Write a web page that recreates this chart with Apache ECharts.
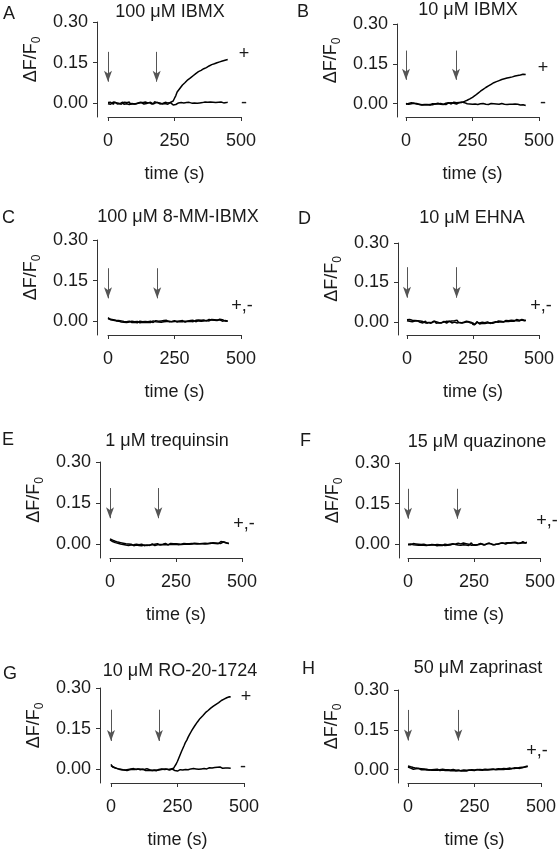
<!DOCTYPE html>
<html><head><meta charset="utf-8">
<script src="https://cdn.jsdelivr.net/npm/echarts@6/dist/echarts.min.js"></script>
<style>html,body{margin:0;padding:0;background:#fff}#c{width:559px;height:853px}</style>
</head><body><div id="c"></div><script>
// ---------- data ----------
const times = [0,5,10,15,20,25,30,35,40,45,50,55,60,65,70,75,80,85,90,95,100,105,110,115,120,125,130,135,140,145,150,155,160,165,170,175,180,185,190,195,200,205,210,215,220,225,230,235,240,245,250,255,260,265,270,275,280,285,290,295,300,305,310,315,320,325,330,335,340,345,350,355,360,365,370,375,380,385,390,395,400,405,410,415,420,425,430,435,440,445,450];

const aPlus = [.003,-.002,.004,.000,-.003,.005,.001,-.002,.004,-.001, .002,.005,-.003,.003,-.001,.004,-.004,.002,.000,.005, -.002,.003,.001,-.004,.004,.000,.003,-.003,.005,-.001, .002,-.003,.004,.001,-.002,.006,-.001,.003,-.004,.002, .004,-.002,.003,.000,.005,-.003,.002,.004,.001,.009, .019,.029,.042,.045,.055,.059,.068,.069,.077,.080, .087,.088,.094,.097,.102,.104,.110,.111,.117,.118, .122,.124,.128,.129,.132,.134,.138,.138,.143,.143, .146,.147,.150,.149,.153,.152,.156,.155,.159,.160, .162];
const aMinus = [-.001,.004,-.003,.002,.005,-.002,.003,-.004,.001,.004, -.003,.001,.004,-.002,.003,.000,.005,-.003,.002,-.001, .004,-.002,.003,.001,-.004,.003,.002,-.002,.004,.000, -.003,.003,.001,-.002,.005,.000,-.003,.004,.001,-.002, .003,.000,-.003,.004,-.001,.002,-.004,.003,-.002,-.006, -.009,-.004,-.001,.002,.000,.003,.001,.002,.000,.003, .001,.004,.002,.001,.003,.002,.004,.001,.003,.002, .004,.003,.002,.005,.003,.004,.002,.005,.003,.004, .006,.003,.005,.004,.003,.005,.004,.002,.004,.003, .004];
const bPlus = [.001,.004,-.002,.003,.000,-.003,.002,.004,-.001,.002, -.002,.001,-.004,.000,-.003,.002,-.004,-.001,-.003,.001, -.004,-.002,.000,-.005,-.001,-.003,.001,-.004,-.002,.002, -.003,.001,.003,-.002,.004,.000,.002,.005,-.001,.003, .004,.007,.005,.008,.009,.008,.013,.012,.018,.020, .024,.027,.031,.036,.039,.043,.047,.051,.054,.058, .061,.064,.067,.071,.073,.076,.079,.080,.083,.086, .087,.090,.091,.093,.094,.096,.097,.098,.099,.101, .101,.103,.104,.105,.106,.107,.108,.110,.111,.112, .110];
const bMinus = [-.002,.003,.001,-.003,.004,-.001,.002,-.004,.001,.003, -.003,.000,-.005,.002,-.004,-.001,-.003,.001,-.005,-.002, .000,-.004,-.001,-.003,.002,-.005,-.002,.001,-.003,.000, .002,-.002,.004,.001,-.001,.003,.006,.001,.004,-.002, .005,.002,.006,.001,.004,.003,.000,.002,-.001,.001, -.002,.000,-.001,.001,-.003,-.001,.000,-.002,.001,-.001, -.002,.000,-.003,-.001,.001,-.002,.000,-.003,-.001,.000, -.002,-.001,.001,-.003,-.002,.000,-.003,-.001,-.002,-.004, -.002,-.003,-.001,-.004,-.002,-.003,-.005,-.003,-.004,-.006, -.007];
const cPlus = [.014,.008,.006,.009,.004,.006,.002,.005,.001,.003, -.002,.002,-.003,.001,-.004,.000,-.002,-.005,.001,-.003, -.001,-.004,.000,-.003,-.005,-.001,-.003,.001,-.004,-.002, -.003,.000,-.004,-.001,.002,-.003,-.001,.003,-.002,.000, -.003,.002,-.001,.003,.000,-.002,.001,.004,-.001,.002, .000,-.003,.001,-.002,.002,-.001,.003,.000,-.002,.001, .002,-.001,.003,.000,.004,.001,-.001,.003,.002,.005, .001,.004,.002,.005,.003,.006,.002,.004,.007,.003, .006,.003,.005,.002,.006,.004,.001,.005,.003,.004, .002];
const cMinus = [.010,.005,.008,.003,.006,.001,.004,-.001,.003,.000, .002,-.003,.000,-.004,-.001,-.003,.001,-.002,-.004,.000, -.003,.000,-.005,-.002,.001,-.004,-.001,-.003,.000,-.005, -.001,-.004,.001,-.002,-.004,.000,.003,-.003,.001,-.002, .002,-.001,.003,-.002,.004,.001,-.001,.002,.000,-.002, .003,.001,-.002,.002,.000,.003,-.001,.002,.001,-.001, .000,.003,.001,.004,-.001,.002,.004,.000,.005,.002, .004,.001,.005,.003,.002,.004,.007,.003,.005,.002, .004,.007,.003,.005,.008,.002,.006,.004,.002,.005, .001];
const dPlus = [.008,.004,.009,.003,.006,.002,.005,.000,.004,-.002, .003,-.003,.001,.004,-.004,.000,-.002,.003,-.005,-.001, .002,-.004,.000,-.006,-.002,.001,-.003,.003,-.001,-.004, .002,-.002,.001,-.005,.003,-.001,.004,-.003,.006,-.002, .001,-.004,.003,-.001,-.005,.002,-.003,.000,-.006,-.002, -.010,-.003,-.007,.001,-.004,-.008,-.002,-.005,.000,-.006, -.002,-.004,.001,-.003,-.001,-.005,.002,-.002,.000,.003, -.001,.002,.004,.000,.003,.005,.001,.004,.002,.006, .003,.005,.008,.004,.007,.003,.006,.009,.004,.006, .005];
const dMinus = [.004,.007,.002,.006,.000,.005,.003,-.002,.004,.001, -.002,.002,-.004,.000,.003,-.005,.001,-.002,.002,-.003, -.001,.003,-.005,-.001,-.003,.002,-.004,.000,.002,-.003, -.005,.000,.003,-.002,-.004,.001,-.001,.005,-.004,.001, -.002,.002,-.004,.001,-.002,-.006,.000,-.003,-.004,-.008, -.004,-.012,-.006,-.002,-.009,-.004,-.006,-.001,-.007,-.003, -.005,.000,-.003,-.006,.001,-.002,-.004,.000,.002,-.002, .002,.000,.003,-.001,.004,.002,.006,.001,.005,.003, .007,.002,.005,.009,.004,.006,.003,.007,.005,.004, .006];
const ePlus = [.020,.013,.015,.009,.011,.005,.008,.003,.006,.001, .004,-.001,.002,-.003,.001,-.004,.000,-.002,-.005,-.001, -.003,.000,-.004,-.002,-.005,-.001,-.003,.000,-.004,-.002, -.003,.001,-.002,-.004,.000,-.003,.002,-.001,-.003,.001, -.002,.002,-.001,.003,-.002,.001,.003,-.001,.002,.000, .002,-.002,.001,.003,-.001,.002,.000,.003,.001,.002, .000,.003,.001,.002,.004,.001,.003,.000,.002,.004, .002,.003,.001,.004,.002,.005,.003,.004,.006,.002, .005,.008,.004,.007,.003,.006,.009,.004,.006,.003, .002];
const eMinus = [.016,.018,.010,.012,.006,.009,.004,.006,.001,.003, -.001,.002,-.003,.000,-.004,-.001,-.003,.001,-.002,-.004, .000,-.005,-.002,-.004,.000,-.003,-.005,-.001,-.003,.001, -.004,-.001,.001,-.003,-.005,.000,-.002,.003,-.001,-.004, .000,-.003,.003,.000,-.002,.004,.000,.002,-.001,.003, .000,.001,-.002,.002,.000,-.001,.003,.000,.002,-.001, .002,.001,.003,.000,.002,.003,.001,.004,.002,.001, .003,.001,.004,.002,.003,.001,.005,.002,.004,.007, .003,.006,.002,.007,.010,.005,.008,.002,.005,.007, .004];
const fPlus = [.001,-.002,.002,.000,-.001,.003,-.002,.001,-.003,.000, -.002,.001,-.003,-.001,-.004,.000,-.002,-.004,-.001,-.003, -.002,-.004,.000,-.003,-.001,-.005,-.002,.000,-.004,-.001, -.003,.000,-.002,-.004,.001,-.002,.002,-.003,.004,-.001, .002,-.004,.005,-.002,.003,-.004,.001,.004,-.003,.002, -.001,.003,-.002,.004,.000,-.003,.002,.005,-.001,.001, .003,-.002,.004,.001,-.001,.003,.000,.004,.002,.001, .004,.002,.005,.003,.001,.004,.006,.003,.005,.004, .006,.003,.007,.005,.004,.008,.006,.009,.005,.010, .007];
const fMinus = [-.001,.002,-.001,.001,.003,-.002,.002,-.001,.001,-.003, .000,-.003,.001,-.004,-.002,.001,-.003,-.002,.000,-.004, -.001,-.003,-.005,-.001,-.003,.000,-.004,-.002,.001,-.003, -.001,-.004,.001,-.002,.003,-.003,.000,.005,-.002,.003, -.003,.004,-.001,.006,-.002,.002,-.004,.003,.006,-.002, .004,-.003,.003,.000,-.004,.004,.001,-.002,.005,.000, -.002,.004,.000,.002,.005,-.001,.003,.001,.005,.002, .002,.005,.001,.004,.003,.006,.002,.005,.003,.007, .004,.008,.005,.003,.009,.004,.007,.010,.006,.005, .008];
const gPlus = [.019,.010,.014,.006,.008,.003,.006,.001,.004,-.001, .002,-.002,.003,.000,-.003,.002,-.001,.003,-.004,.000, -.002,.002,-.003,.001,-.004,.000,-.002,.003,-.003,-.001, .001,-.004,.002,-.002,.000,-.003,.003,-.001,-.004,.001, -.002,.002,-.003,.000,-.004,.002,-.001,.004,.012,.020, .030,.042,.054,.066,.077,.088,.100,.108,.119,.128, .137,.146,.153,.161,.168,.175,.181,.188,.193,.198, .203,.209,.213,.217,.222,.226,.229,.233,.237,.240, .243,.246,.251,.254,.257,.259,.262,.264,.266,.268, .267];
const gMinus = [.014,.017,.008,.011,.004,.007,.001,.005,-.001,.003, -.002,.001,-.004,.002,-.001,-.003,.001,-.004,.000,-.002, .002,-.003,-.001,-.005,.001,-.002,-.004,.000,-.003,.002, -.004,-.001,-.003,.001,-.005,-.002,.000,-.004,.002,-.003, .000,-.004,.001,-.003,-.002,-.005,.001,-.002,-.004,-.001, -.006,-.003,-.001,.000,-.002,.001,.000,.002,-.001,.001, .002,.000,.003,.001,.002,.004,.001,.003,.002,.004, .003,.005,.002,.004,.006,.003,.005,.004,.007,.005, .008,.006,.009,.007,.004,.006,.005,.003,.005,.004, .004];
const hPlus = [.014,.008,.011,.005,.008,.003,.006,.002,.005,.001, .004,.000,.003,-.001,.002,.004,-.001,.002,.000,.003, .001,-.002,.002,.000,-.003,.001,-.001,.002,-.003,.000, -.002,.001,-.004,-.001,-.003,.000,-.005,-.002,-.004,-.001, -.003,-.005,-.001,-.004,-.002,-.006,-.002,-.004,.000,-.003, -.001,-.004,.000,-.002,.001,-.003,.000,-.001,.002,-.002, .001,.000,.002,-.001,.003,.001,.000,.003,.001,.004, .002,.004,.001,.005,.003,.004,.002,.006,.004,.005, .007,.004,.006,.005,.008,.006,.009,.007,.010,.008, .012];
const hMinus = [.010,.013,.006,.009,.002,.007,.004,.001,.005,.002, .000,.003,.001,.004,-.001,.002,.000,.003,-.002,.001, -.001,.002,-.002,.001,.000,-.003,.002,-.002,.000,-.004, .000,-.003,-.001,-.004,.001,-.003,-.002,-.005,-.001,-.003, -.005,-.002,-.004,-.001,-.005,-.003,-.001,-.004,-.002,.000, -.003,-.001,.001,-.002,-.001,.001,-.002,.002,.000,.001, -.001,.002,.000,.003,.001,-.001,.002,.001,.004,.002, .003,.001,.005,.002,.004,.003,.006,.003,.005,.006, .005,.008,.006,.007,.005,.009,.007,.008,.011,.009, .014];

const panelLetters = ['A','B','C','D','E','F','G','H'];
const panelTitles = ['100 μM IBMX','10 μM IBMX','100 μM 8-MM-IBMX','10 μM EHNA','1 μM trequinsin','15 μM quazinone','10 μM RO-20-1724','50 μM zaprinast'];
const plusSeries = [aPlus,bPlus,cPlus,dPlus,ePlus,fPlus,gPlus,hPlus];
const minusSeries = [aMinus,bMinus,cMinus,dMinus,eMinus,fMinus,gMinus,hMinus];
const plusTags = ['+','+','+,-','+,-','+,-','+,-','+','+,-'];
const minusTags = ['-','-','','','','','-',''];
const firstArrowTime = [0,0,0,0,0,0,0,0];
const secondArrowTime = [183,188,185,188,183,187,180,189];
const arrowTopValue = [0.19,0.20,0.196,0.208,0.205,0.205,0.22,0.225];
const arrowTipValue = [0.08,0.09,0.085,0.092,0.095,0.095,0.105,0.11];
const xTickValues = [0,250,500];
const yTickValues = [0,0.15,0.30];

// ---------- layout (pixels) ----------
const layout = [
  {left:108, top:22,  width:133, height:95, off:11, letter:[3,5],   title:[170,12],  plus:[244,54],  minus:[244,103]},
  {left:406, top:24,  width:133, height:93, off:9,  letter:[297,3], title:[468,10],  plus:[543,68],  minus:[543,103]},
  {left:108, top:240, width:133, height:95, off:11, letter:[2,209], title:[178,217], plus:[242,306], minus:null},
  {left:407, top:243, width:132, height:92, off:9,  letter:[298,210],title:[472,218], plus:[541,306], minus:null},
  {left:110, top:462, width:132, height:96, off:10, letter:[2,431], title:[167,441], plus:[244,524], minus:null},
  {left:408, top:463, width:132, height:95, off:9,  letter:[300,432],title:[477,442], plus:[547,521], minus:null},
  {left:111, top:688, width:133, height:95, off:11, letter:[3,665], title:[180,671], plus:[246,697], minus:[243,767]},
  {left:408, top:690, width:133, height:93, off:10, letter:[302,660],title:[478,668], plus:[537,751], minus:null}
];

const FONT = '"Liberation Sans", Arial, Helvetica, sans-serif';
const AX = '#333';
const TXT = '#1a1a1a';

const grid = [], xAxis = [], yAxis = [], series = [], graphic = [];
layout.forEach((L, p) => {
  grid.push({left:L.left, top:L.top, width:L.width, height:L.height, containLabel:false});
  xAxis.push({
    gridIndex:p, type:'value', min:0, max:500, interval:250,
    axisLine:{show:true, onZero:false, lineStyle:{color:AX, width:1}},
    axisTick:{show:true, length:4, inside:false, lineStyle:{color:AX, width:1}},
    axisLabel:{show:true, margin:15, fontSize:18, color:TXT, fontFamily:FONT,
      customValues:xTickValues, formatter:v=>String(v)},
    splitLine:{show:false},
    name:'time (s)', nameLocation:'middle', nameGap:48,
    nameTextStyle:{fontSize:18, color:TXT, fontFamily:FONT}
  });
  yAxis.push({
    gridIndex:p, type:'value', min:-0.05, max:0.30, offset:L.off,
    axisLine:{show:true, onZero:false, lineStyle:{color:AX, width:1}},
    axisTick:{show:true, length:4, lineStyle:{color:AX, width:1}, customValues:yTickValues},
    axisLabel:{show:true, margin:9, fontSize:18, color:TXT, fontFamily:FONT,
      customValues:yTickValues, formatter:v=>v.toFixed(2)},
    splitLine:{show:false},
    name:'{m|ΔF/F}{s|0}', nameLocation:'middle', nameRotate:90, nameGap:57,
    nameTextStyle:{color:TXT, fontFamily:FONT, padding:[0,0,0,20], rich:{
      m:{fontSize:18, color:TXT, fontFamily:FONT, lineHeight:18, verticalAlign:'top'},
      s:{fontSize:12, color:TXT, fontFamily:FONT, lineHeight:12, verticalAlign:'top', padding:[9,0,0,0]}
    }}
  });
  const mk = (arr) => times.map((t,i)=>[t, arr[i]]);
  series.push({
    type:'line', xAxisIndex:p, yAxisIndex:p, data:mk(minusSeries[p]),
    showSymbol:false, symbol:'none', silent:true, animation:false,
    lineStyle:{color:'#000', width:1.5}
  });
  series.push({
    type:'line', xAxisIndex:p, yAxisIndex:p, data:mk(plusSeries[p]),
    showSymbol:false, symbol:'none', silent:true, animation:false,
    lineStyle:{color:'#000', width:1.5},
    markLine:{
      silent:true, animation:false, symbol:['none','arrow'], symbolSize:[6,11],
      label:{show:false},
      lineStyle:{color:'#555', width:1, type:'solid'},
      data:[firstArrowTime[p], secondArrowTime[p]].map(t => [
        {coord:[t, arrowTopValue[p]]}, {coord:[t, arrowTipValue[p]]}
      ])
    }
  });
  graphic.push({type:'text', left:L.letter[0], top:L.letter[1], silent:true,
    style:{text:panelLetters[p], font:'18px '+FONT, fill:TXT}});
  graphic.push({type:'text', x:L.title[0], y:L.title[1], silent:true,
    style:{text:panelTitles[p], font:'18px '+FONT, fill:TXT, textAlign:'center', textVerticalAlign:'middle'}});
  graphic.push({type:'text', x:L.plus[0], y:L.plus[1], silent:true,
    style:{text:plusTags[p], font:'18px '+FONT, fill:TXT, textAlign:'center', textVerticalAlign:'middle'}});
  if (L.minus && minusTags[p]) {
    graphic.push({type:'text', x:L.minus[0], y:L.minus[1], silent:true,
      style:{text:minusTags[p], font:'18px '+FONT, fill:TXT, textAlign:'center', textVerticalAlign:'middle'}});
  }
});

const chart = echarts.init(document.getElementById('c'), null, {renderer:'canvas'});
chart.setOption({backgroundColor:'#fff', animation:false, grid, xAxis, yAxis, series, graphic});
</script></body></html>
